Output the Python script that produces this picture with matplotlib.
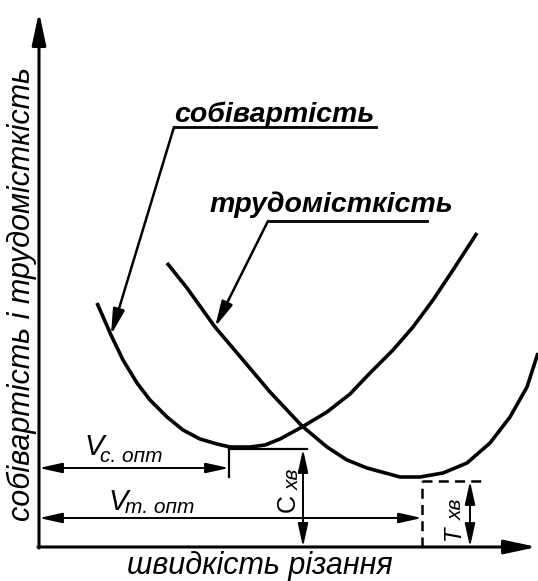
import matplotlib.pyplot as plt

# schematic data, units = speed / cost from axis origin
cost_v = [58, 72, 84, 98, 111, 128, 144, 161, 178, 191, 211, 226, 241, 263, 288, 311, 331, 354, 374, 394, 414, 438]
cost_c = [244, 212, 187, 164, 147, 130, 117, 108, 103, 100, 100, 102, 108, 120, 135, 153, 174, 197, 220, 247, 277, 314]

labour_v = [128, 148, 176, 204, 231, 263, 288, 308, 328, 361, 381, 404, 428, 451, 471, 488, 499]
labour_t = [284, 259, 220, 187, 155, 121, 100, 87, 79, 70, 70, 74, 84, 104, 130, 160, 194]

v_c_opt = 190
c_min = 98
v_m_opt = 383
t_min = 66

x_max = 498
y_max = 535

title_cost = "собівартість"
title_labour = "трудомісткість"
x_label = "швидкість різання"
y_label = "собівартість і трудомісткість"

plt.rcParams['font.family'] = ['Liberation Sans', 'DejaVu Sans']

fig = plt.figure(figsize=(5.38, 5.81), dpi=100)
ax = fig.add_axes([0, 0, 1, 1])
ax.set_xlim(-39, 499)
ax.set_ylim(-34, 547)
ax.axis('off')


def arrow(ax, p0, p1, style, lw=1.4, scale=14):
    ax.annotate('', xy=p1, xytext=p0,
                arrowprops=dict(arrowstyle=style, lw=lw, color='k',
                                shrinkA=0, shrinkB=0, mutation_scale=scale))


# axes
arrow(ax, (0, -1), (0, y_max), '-|>,head_length=1.4,head_width=0.3', lw=2.2)
arrow(ax, (-1, 0), (x_max, 0), '-|>,head_length=1.4,head_width=0.3', lw=2.2)

# curves
ax.plot(cost_v, cost_c, color='k', lw=2.6, solid_capstyle='butt', solid_joinstyle='round')
ax.plot(labour_v, labour_t, color='k', lw=2.6, solid_capstyle='butt', solid_joinstyle='round')

# dimension lines for cost optimum
ax.plot([v_c_opt, v_c_opt], [70, c_min], color='k', lw=1.6)
ax.plot([v_c_opt, 268], [c_min, c_min], color='k', lw=1.6)
dim = '<|-|>,head_length=1.0,head_width=0.22'
arrow(ax, (0, 79), (v_c_opt, 79), dim)
arrow(ax, (264, 0), (264, c_min), dim)

# dimension lines for labour optimum
ax.plot([v_m_opt, v_m_opt], [0, t_min], color='k', lw=1.8, ls=(0, (4, 2.5)))
ax.plot([v_m_opt, 443], [t_min, t_min], color='k', lw=1.8, ls=(0, (4, 2.5)))
arrow(ax, (0, 29), (v_m_opt, 29), dim)
arrow(ax, (431, 0), (431, t_min), dim)

# subscript labels
ax.text(45, 92, "V", fontsize=21, style='italic', ha='left', va='baseline')
ax.text(61, 85, "c. опт", fontsize=15, style='italic', ha='left', va='baseline')
ax.text(69, 37, "V", fontsize=21, style='italic', ha='left', va='baseline')
ax.text(86, 34, "m. опт", fontsize=15, style='italic', ha='left', va='baseline')

ax.text(256, 35, "C", fontsize=18, rotation=90, rotation_mode='anchor',
        ha='left', va='baseline')
ax.text(260, 57, "хв", fontsize=15, style='italic', rotation=90,
        rotation_mode='anchor', ha='left', va='baseline')
ax.text(421, 7, "T", fontsize=17, style='italic', rotation=90,
        rotation_mode='anchor', ha='left', va='baseline')
ax.text(423, 27, "хв", fontsize=15, style='italic', rotation=90,
        rotation_mode='anchor', ha='left', va='baseline')

# curve labels with leaders
ax.text(135, 425, title_cost, fontsize=20.5, style='italic', weight='bold',
        ha='left', va='baseline')
ax.plot([135, 337], [420, 420], color='k', lw=2)
arrow(ax, (135, 420), (cost_v[1], cost_c[1]), '-|>,head_length=1.1,head_width=0.25', lw=1.8)

ax.text(171, 335, title_labour, fontsize=20.5, style='italic', weight='bold',
        ha='left', va='baseline')
ax.plot([229, 388], [326, 326], color='k', lw=2)
arrow(ax, (229, 326), (labour_v[2], labour_t[2]), '-|>,head_length=1.1,head_width=0.25', lw=1.8)

# axis labels
ax.text(-17, 253, y_label, fontsize=22, style='italic', rotation=90,
        ha='center', va='center')
ax.text(221, -19, x_label, fontsize=22, style='italic', ha='center', va='center')

fig.savefig('out.png', dpi=100)
